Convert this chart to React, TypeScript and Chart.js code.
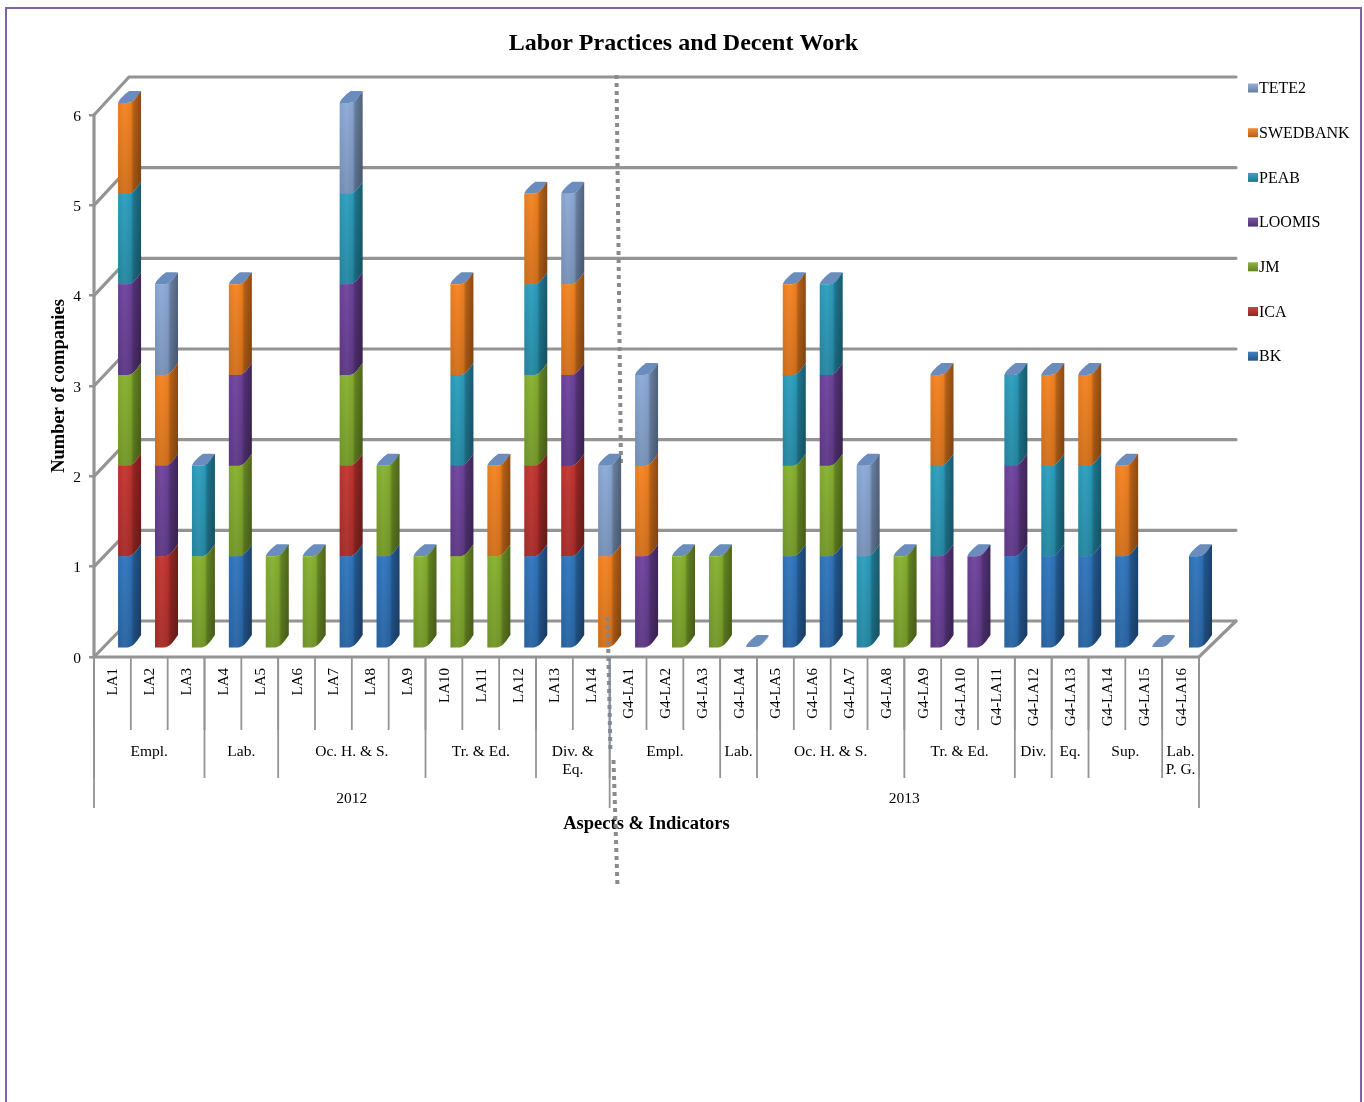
import React, { useEffect, useRef } from "react";
import { Chart, BarController, registerables } from "chart.js";

Chart.register(...registerables);

const SERIF = "'Liberation Serif', 'Times New Roman', serif";
const GRID = "#949494";

const indicators = [
  "LA1", "LA2", "LA3", "LA4", "LA5", "LA6", "LA7", "LA8", "LA9", "LA10", "LA11", "LA12", "LA13", "LA14",
  "G4-LA1", "G4-LA2", "G4-LA3", "G4-LA4", "G4-LA5", "G4-LA6", "G4-LA7", "G4-LA8", "G4-LA9", "G4-LA10",
  "G4-LA11", "G4-LA12", "G4-LA13", "G4-LA14", "G4-LA15", "G4-LA16",
];

// Aspect rows: [label lines, number of indicators]
const aspects: [string[], number][] = [
  [["Empl."], 3], [["Lab."], 2], [["Oc. H. & S."], 4], [["Tr. & Ed."], 3], [["Div. &", "Eq."], 2],
  [["Empl."], 3], [["Lab."], 1], [["Oc. H. & S."], 4], [["Tr. & Ed."], 3], [["Div."], 1], [["Eq."], 1],
  [["Sup."], 2], [["Lab.", "P. G."], 1],
];
const years: [string, number][] = [["2012", 14], ["2013", 16]];

const BK =       [1,0,0,1,0,0,1,1,0,0,0,1,1,0, 0,0,0,0,1,1,0,0,0,0,1,1,1,1,0,1];
const ICA =      [1,1,0,0,0,0,1,0,0,0,0,1,1,0, 0,0,0,0,0,0,0,0,0,0,0,0,0,0,0,0];
const JM =       [1,0,1,1,1,1,1,1,1,1,1,1,0,0, 0,1,1,0,1,1,0,1,0,0,0,0,0,0,0,0];
const LOOMIS =   [1,1,0,1,0,0,1,0,0,1,0,0,1,0, 1,0,0,0,0,1,0,0,1,1,1,0,0,0,0,0];
const PEAB =     [1,0,1,0,0,0,1,0,0,1,0,1,0,0, 0,0,0,0,1,1,1,0,1,0,1,1,1,0,0,0];
const SWEDBANK = [1,1,0,1,0,0,0,0,0,1,1,1,1,1, 1,0,0,0,1,0,0,0,1,0,0,1,1,1,0,0];
const TETE2 =    [0,1,0,0,0,0,1,0,0,0,0,0,1,1, 1,0,0,0,0,0,1,0,0,0,0,0,0,0,0,0];

const seriesNames = ["BK", "ICA", "JM", "LOOMIS", "PEAB", "SWEDBANK", "TETE2"];
const seriesValues = [BK, ICA, JM, LOOMIS, PEAB, SWEDBANK, TETE2];
const seriesColors = ["#2f74bd", "#c2332f", "#86b02e", "#6d429c", "#2a9dbd", "#f4821f", "#8ba9d6"];
const CAP_COLOR = "#6b8dbd";

function shade(hex: string, f: number) {
  const n = parseInt(hex.slice(1), 16);
  const ch = (v: number) => {
    const out = f <= 1 ? v * f : v + (255 - v) * (f - 1);
    return Math.round(Math.max(0, Math.min(255, out)));
  };
  return `rgb(${ch((n >> 16) & 255)},${ch((n >> 8) & 255)},${ch(n & 255)})`;
}

const FACE = 15;
const SIDE_X = 8;
const SIDE_Y = 12;

// Stacked bar drawn as an extruded column with a rounded front edge.
class Bar3DController extends BarController {
  static id = "bar3d";
  static defaults = { ...BarController.defaults };
  static overrides = BarController.overrides;

  draw() {
    const meta: any = (this as any)._cachedMeta;
    const ds: any = this.getDataset();
    const ctx: CanvasRenderingContext2D = (this as any).chart.ctx;
    meta.data.forEach((el: any) => {
      const shift = 13.1 + 0.0026 * (el.x - 94);
      const x1 = el.x - FACE / 2 + shift;
      const x2 = x1 + FACE;
      const xs = x2 + SIDE_X;
      const yt = Math.min(el.y, el.base);
      const yb = Math.max(el.y, el.base);
      if (yb - yt > 0.5) {
        ctx.save();
        ctx.beginPath();
        ctx.moveTo(x1, yt);
        ctx.lineTo(x1, yb + 0.5);
        ctx.lineTo(x2 - 6, yb + 0.5);
        ctx.bezierCurveTo(x2 - 1, yb, x2 + 2, yb - 3, xs, yb - SIDE_Y);
        ctx.lineTo(xs, yt - SIDE_Y);
        ctx.bezierCurveTo(x2 + 2, yt - 3, x2 - 1, yt, x2 - 6, yt);
        ctx.closePath();
        const base = ds.backgroundColor as string;
        const g = ctx.createLinearGradient(x1, 0, xs, 0);
        g.addColorStop(0, shade(base, 0.96));
        g.addColorStop(0.3, shade(base, 1.05));
        g.addColorStop(0.56, shade(base, 0.97));
        g.addColorStop(0.68, shade(base, 0.74));
        g.addColorStop(1, shade(base, 0.58));
        ctx.fillStyle = g;
        ctx.fill();
        const v = ctx.createLinearGradient(0, yt, 0, yb);
        v.addColorStop(0, "rgba(0,0,0,0)");
        v.addColorStop(1, "rgba(0,0,0,0.14)");
        ctx.fillStyle = v;
        ctx.fill();
        ctx.restore();
      }
      if (ds.capColor) {
        ctx.beginPath();
        ctx.moveTo(x1, yt);
        ctx.bezierCurveTo(x1 + 1, yt - 4, x1 + 7, yt - 9, x1 + 11, yt - SIDE_Y);
        ctx.lineTo(xs - 2, yt - SIDE_Y);
        ctx.quadraticCurveTo(xs, yt - SIDE_Y, xs, yt - SIDE_Y + 1);
        ctx.bezierCurveTo(x2 + 2, yt - 3, x2 - 1, yt, x2 - 6, yt);
        ctx.closePath();
        ctx.fillStyle = ds.capColor;
        ctx.fill();
      }
    });
  }
}
Chart.register(Bar3DController);

function strokeLine(ctx: CanvasRenderingContext2D, pts: number[][], width: number, color = GRID) {
  ctx.beginPath();
  ctx.lineWidth = width;
  ctx.strokeStyle = color;
  pts.forEach((p, i) => (i ? ctx.lineTo(p[0], p[1]) : ctx.moveTo(p[0], p[1])));
  ctx.stroke();
}

function dotted(ctx: CanvasRenderingContext2D, a: number[], b: number[], color: string) {
  ctx.save();
  ctx.lineCap = "butt";
  ctx.setLineDash([4, 4]);
  strokeLine(ctx, [a, b], 4, color);
  ctx.restore();
}

// Back wall, side wall and floor of the box behind the columns.
const wallPlugin = {
  id: "walls",
  beforeDatasetsDraw(chart: any) {
    const { ctx } = chart;
    const front = chart.scales.y;
    const bars = chart.scales.yBars;
    const left = chart.chartArea.left;
    const right = chart.chartArea.right;
    const depthX = 35;
    const depthXRight = 37;
    const lift = 26;
    ctx.save();
    ctx.lineCap = "round";
    for (let v = 0; v <= 6; v++) {
      const yBack = bars.getPixelForValue(v) - lift;
      strokeLine(ctx, [[left, front.getPixelForValue(v)], [left + depthX, yBack], [right + depthXRight, yBack]], 3.2);
    }
    strokeLine(ctx, [[left, front.getPixelForValue(6)], [left, front.getPixelForValue(0)], [right, front.getPixelForValue(0)],
      [right + depthXRight, bars.getPixelForValue(0) - lift]], 3.2);
    dotted(ctx, [616.5, 75], [621, 467], "#8a8a8a");
    ctx.restore();
  },
};

// Hierarchical category rows below the axis, legend, divider and page frame.
const furniturePlugin = {
  id: "furniture",
  afterDraw(chart: any) {
    const { ctx, chartArea } = chart;
    const step = (chartArea.right - chartArea.left) / indicators.length;
    const edge = (i: number) => chartArea.left + step * i;
    const top = chartArea.bottom;
    ctx.save();

    for (let i = 0; i <= indicators.length; i++) strokeLine(ctx, [[edge(i), top], [edge(i), 730]], 1.8);

    ctx.fillStyle = "#000";
    ctx.font = `15.5px ${SERIF}`;
    ctx.textAlign = "center";
    ctx.textBaseline = "middle";
    let at = 0;
    strokeLine(ctx, [[edge(0), top], [edge(0), 778]], 1.8);
    aspects.forEach(([lines, count]) => {
      const cx = (edge(at) + edge(at + count)) / 2;
      lines.forEach((line, k) => ctx.fillText(line, cx, 751.5 + k * 18));
      at += count;
      strokeLine(ctx, [[edge(at), top], [edge(at), 778]], 1.8);
    });
    at = 0;
    strokeLine(ctx, [[edge(0), top], [edge(0), 808]], 1.8);
    years.forEach(([label, count]) => {
      ctx.fillText(label, (edge(at) + edge(at + count)) / 2, 798.5);
      at += count;
      strokeLine(ctx, [[edge(at), top], [edge(at), 808]], 1.8);
    });

    dotted(ctx, [607.5, 617], [610.5, 752], "rgba(125,135,145,0.92)");
    dotted(ctx, [613.5, 760], [617.5, 888], "#8a8a8a");

    ctx.font = `16px ${SERIF}`;
    ctx.textAlign = "left";
    chart.data.datasets.slice().reverse().forEach((ds: any, i: number) => {
      const y = 88 + i * 44.7;
      const g = ctx.createLinearGradient(0, y - 5, 0, y + 5);
      g.addColorStop(0, shade(ds.backgroundColor, 1.1));
      g.addColorStop(1, shade(ds.backgroundColor, 0.72));
      ctx.fillStyle = g;
      ctx.fillRect(1248, y - 4.5, 10, 9);
      ctx.fillStyle = "#000";
      ctx.fillText(ds.label, 1259, y + 1);
    });

    strokeLine(ctx, [[6, 1102], [6, 8], [1361, 8], [1361, 1102]], 2, "#8064a2");
    ctx.restore();
  },
};

export default function App() {
  const ref = useRef<HTMLCanvasElement>(null);
  useEffect(() => {
    const chart = new Chart(ref.current as HTMLCanvasElement, {
      type: "bar3d" as any,
      data: {
        labels: indicators,
        datasets: seriesNames.map((label, i) => ({
          label,
          data: seriesValues[i],
          backgroundColor: seriesColors[i],
          capColor: i === seriesNames.length - 1 ? CAP_COLOR : undefined,
          yAxisID: "yBars",
          clip: false,
          barThickness: FACE,
        })) as any,
      },
      options: {
        responsive: false,
        animation: false,
        layout: { padding: { left: 3, right: 0, top: 0, bottom: 265 } },
        plugins: {
          legend: { display: false },
          tooltip: { enabled: false },
          title: {
            display: true,
            text: "Labor Practices and Decent Work",
            color: "#000",
            font: { family: SERIF, size: 24, weight: "bold", lineHeight: 1.2 },
            padding: { top: 29, bottom: 57.2 },
          },
        },
        scales: {
          x: {
            stacked: true,
            grid: { display: false },
            border: { display: false },
            afterFit: (s: any) => { s.height = 180; },
            ticks: {
              autoSkip: false,
              minRotation: 90,
              maxRotation: 90,
              padding: 3,
              labelOffset: 1,
              color: "#000",
              font: { family: SERIF, size: 15 },
            },
            title: {
              display: true,
              text: "Aspects & Indicators",
              color: "#000",
              font: { family: SERIF, size: 18.5, weight: "bold" },
              padding: { top: 0, bottom: 2 },
            },
          },
          y: {
            type: "linear",
            position: "left",
            min: 0,
            max: 6,
            afterFit: (s: any) => { s.width = 91; },
            border: { display: false },
            grid: { drawOnChartArea: false, drawTicks: true, tickLength: 5, color: GRID, lineWidth: 2.5 },
            ticks: { stepSize: 1, padding: 8, labelOffset: 1.5, color: "#000", font: { family: SERIF, size: 15.5 } },
            title: {
              display: true,
              text: "Number of companies",
              color: "#000",
              font: { family: SERIF, size: 18.5, weight: "bold" },
              padding: { top: 45.5, bottom: 0 },
            },
          },
          // Columns stand on the floor, set back from the front axis; the
          // empty right-hand gutter holds the legend column.
          yBars: {
            type: "linear",
            axis: "y",
            position: "right",
            stacked: true,
            min: -10 / 90.67,
            max: 532 / 90.67,
            afterFit: (s: any) => { s.width = 165; },
            border: { display: false },
            grid: { display: false },
            ticks: { display: false },
          },
        },
      } as any,
      plugins: [wallPlugin, furniturePlugin],
    } as any);
    return () => chart.destroy();
  }, []);
  return (
    <div style={{ position: "absolute", left: 0, top: 0, width: 1364, height: 1102, overflow: "hidden" }}>
      <canvas ref={ref} width={1364} height={1102} style={{ display: "block" }} />
    </div>
  );
}
